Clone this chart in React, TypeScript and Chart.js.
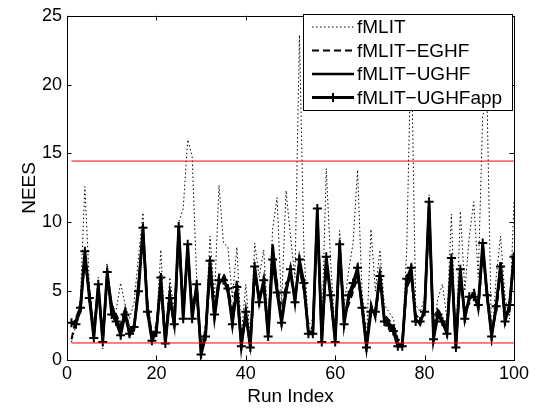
import React, { useEffect, useRef } from "react";
import { Chart, registerables } from "chart.js";

Chart.register(...registerables);

const seriesNames = ["fMLIT", "fMLIT\u2212EGHF", "fMLIT\u2212UGHF", "fMLIT\u2212UGHFapp"];

const fMLIT = [
  1.3, 2.5, 4.5, 12.6, 5.5, 2.2, 6.0, 0.8, 7.0, 3.5,
  3.6, 5.6, 4.0, 3.0, 4.2, 7.5, 10.7, 4.5, 2.0, 2.5,
  8.0, 1.5, 6.0, 3.5, 10.0, 11.0, 16.0, 14.8, 6.0, 1.0,
  2.5, 9.0, 4.5, 12.7, 8.5, 8.2, 4.5, 8.2, 1.8, 5.5,
  1.5, 8.5, 6.0, 8.0, 2.5, 9.5, 11.8, 4.0, 12.3, 9.0,
  6.0, 23.6, 8.0, 2.5, 3.0, 9.0, 2.0, 13.9, 7.0, 1.8,
  9.4, 4.0, 6.5, 8.5, 13.8, 5.0, 1.5, 9.5, 5.0, 8.0,
  4.0, 3.5, 3.0, 1.5, 1.4, 8.0, 23.4, 4.0, 3.5, 4.5,
  12.0, 2.5, 4.5, 5.5, 3.0, 10.6, 1.2, 10.8, 5.0, 9.0,
  11.5, 6.0, 17.8, 18.5, 1.0, 6.0, 9.0, 4.5, 3.0, 11.5,
];

const egHF = [
  1.5, 3.0, 4.0, 7.2, 4.9, 2.1, 5.0, 1.6, 5.8, 4.0,
  3.3, 2.5, 3.8, 2.2, 2.5, 5.5, 8.8, 4.0, 1.8, 2.5,
  5.2, 1.6, 5.0, 2.8, 9.0, 3.8, 7.5, 4.0, 5.0, 0.8,
  2.2, 6.4, 3.4, 6.2, 6.3, 5.4, 3.4, 5.8, 1.5, 3.0,
  1.4, 6.0, 4.8, 5.2, 2.3, 7.8, 5.6, 3.3, 5.6, 5.9,
  4.8, 6.6, 5.0, 2.4, 2.3, 10.0, 1.8, 6.8, 4.9, 1.8,
  7.6, 3.3, 4.0, 5.0, 6.0, 4.3, 1.4, 4.1, 3.0, 6.0,
  3.3, 2.9, 2.6, 1.5, 1.3, 5.2, 6.0, 3.3, 2.9, 3.5,
  10.6, 2.0, 3.8, 2.9, 2.4, 6.7, 1.3, 6.0, 3.6, 4.1,
  5.2, 3.6, 7.8, 4.9, 2.2, 3.4, 6.6, 3.4, 3.5, 7.3,
];

const ugHF = [
  2.6, 2.9, 3.5, 7.6, 4.8, 1.8, 5.3, 1.5, 6.2, 4.0,
  3.0, 2.1, 3.6, 1.8, 2.2, 5.6, 9.3, 3.8, 1.6, 2.2,
  5.6, 1.3, 4.8, 2.4, 9.5, 3.3, 8.0, 3.4, 5.2, 0.6,
  1.9, 6.8, 3.0, 5.5, 6.0, 4.9, 2.9, 5.0, 1.2, 3.2,
  1.1, 6.5, 4.4, 5.5, 1.9, 8.4, 5.2, 2.9, 5.2, 6.3,
  4.5, 7.0, 5.3, 2.1, 2.0, 10.6, 1.5, 7.2, 4.4, 1.5,
  8.0, 2.9, 4.4, 5.3, 6.4, 4.0, 1.1, 3.8, 3.3, 6.4,
  3.0, 2.7, 2.3, 1.2, 1.1, 5.6, 6.4, 3.0, 2.6, 3.8,
  11.1, 1.7, 3.5, 2.6, 2.1, 7.1, 1.1, 6.3, 3.3, 4.4,
  4.8, 3.8, 8.2, 4.5, 1.9, 3.7, 7.1, 3.0, 3.8, 7.8,
];

const ugHFapp = [
  2.7, 2.6, 3.8, 7.9, 4.5, 1.6, 5.5, 1.3, 6.4, 3.3,
  2.8, 1.8, 3.3, 1.9, 2.4, 5.0, 9.6, 3.5, 1.4, 2.0,
  6.0, 1.2, 4.5, 2.6, 9.7, 3.0, 8.4, 3.0, 5.5, 0.4,
  1.7, 7.2, 3.3, 5.8, 5.8, 5.2, 2.6, 5.3, 1.0, 3.5,
  0.9, 6.8, 4.2, 5.8, 1.7, 7.3, 4.9, 2.7, 4.9, 6.6,
  4.2, 7.3, 5.6, 1.9, 1.9, 11.0, 1.3, 7.5, 4.7, 1.3,
  8.4, 2.6, 4.7, 5.6, 6.7, 3.8, 0.9, 3.5, 3.5, 6.1,
  2.8, 2.5, 2.1, 1.0, 1.0, 5.9, 6.7, 2.8, 2.8, 3.5,
  11.5, 1.5, 3.3, 2.8, 1.9, 7.4, 0.9, 6.6, 3.0, 4.6,
  4.6, 4.0, 8.5, 4.7, 1.7, 3.9, 6.8, 2.8, 4.0, 7.5,
];

const boundsUpper = 14.449;
const boundsLower = 1.237;
const boundsRun = [1, 100];

const xTicks = [0, 20, 40, 60, 80, 100];
const yTicks = [0, 5, 10, 15, 20, 25];

const FONT = "'Liberation Sans', Arial, Helvetica, sans-serif";

const toPts = (arr: number[]) => arr.map((v, i) => ({ x: i + 1, y: v }));

const boxPlugin = {
  id: "matlabBox",
  afterDraw(chart: any) {
    const { ctx, chartArea: a, scales } = chart;
    const x = scales.x;
    const y = scales.y;
    ctx.save();
    ctx.strokeStyle = "#000";
    ctx.lineWidth = 1;
    ctx.setLineDash([]);
    const tl = 4.5;
    ctx.beginPath();
    for (const t of xTicks) {
      const px = Math.round(x.getPixelForValue(t)) + 0.5;
      ctx.moveTo(px, a.bottom);
      ctx.lineTo(px, a.bottom - tl);
      ctx.moveTo(px, a.top);
      ctx.lineTo(px, a.top + tl);
    }
    for (const t of yTicks) {
      const py = Math.round(y.getPixelForValue(t)) + 0.5;
      ctx.moveTo(a.left, py);
      ctx.lineTo(a.left + tl, py);
      ctx.moveTo(a.right, py);
      ctx.lineTo(a.right - tl, py);
    }
    ctx.stroke();
    ctx.strokeRect(Math.round(a.left) + 0.5, Math.round(a.top) + 0.5, Math.round(a.right - a.left), Math.round(a.bottom - a.top));

    // legend
    const lx = 303, ly = 14, lw = 209, lh = 96;
    ctx.fillStyle = "#fff";
    ctx.fillRect(lx, ly, lw, lh);
    ctx.strokeRect(lx + 0.5, ly + 0.5, lw, lh);
    const rows = [27, 50.5, 74, 97.5];
    const x0 = 312, x1 = 354;
    chart.data.datasets.slice(0, 4).forEach((ds: any, i: number) => {
      const yy = rows[i];
      ctx.save();
      ctx.strokeStyle = "#000";
      ctx.lineWidth = ds.borderWidth;
      ctx.setLineDash(ds.borderDash || []);
      ctx.beginPath();
      ctx.moveTo(x0, yy);
      ctx.lineTo(x1, yy);
      ctx.stroke();
      if (ds.pointStyle === "cross" && ds.pointRadius > 0) {
        ctx.setLineDash([]);
        ctx.lineWidth = ds.pointBorderWidth;
        const cx = (x0 + x1) / 2, r = ds.pointRadius;
        ctx.beginPath();
        ctx.moveTo(cx - r, yy);
        ctx.lineTo(cx + r, yy);
        ctx.moveTo(cx, yy - r);
        ctx.lineTo(cx, yy + r);
        ctx.stroke();
      }
      ctx.restore();
      ctx.fillStyle = "#000";
      ctx.font = `19px ${FONT}`;
      ctx.textBaseline = "middle";
      ctx.textAlign = "left";
      ctx.fillText(seriesNames[i], 357, yy + 1);
    });
    ctx.restore();
  },
};

export default function App() {
  const ref = useRef<HTMLCanvasElement>(null);
  useEffect(() => {
    document.body.style.margin = "0";
    const canvas = ref.current!;
    const chart = new Chart(canvas, {
      type: "line",
      data: {
        datasets: [
          {
            label: seriesNames[0],
            data: toPts(fMLIT),
            borderColor: "#000",
            borderWidth: 1,
            borderDash: [1.5, 2.5],
            pointRadius: 0,
            order: 4,
          },
          {
            label: seriesNames[1],
            data: toPts(egHF),
            borderColor: "#000",
            borderWidth: 2,
            borderDash: [7, 4],
            pointRadius: 0,
            order: 3,
          },
          {
            label: seriesNames[2],
            data: toPts(ugHF),
            borderColor: "#000",
            borderWidth: 2.5,
            pointRadius: 0,
            order: 2,
          },
          {
            label: seriesNames[3],
            data: toPts(ugHFapp),
            borderColor: "#000",
            borderWidth: 2.8,
            pointStyle: "cross",
            pointRadius: 4.5,
            pointBorderWidth: 2,
            pointBorderColor: "#000",
            pointBackgroundColor: "#000",
            order: 1,
          },
          {
            label: "upper",
            data: boundsRun.map((r) => ({ x: r, y: boundsUpper })),
            borderColor: "#ff0000",
            borderWidth: 1,
            pointRadius: 0,
            order: 0,
          },
          {
            label: "lower",
            data: boundsRun.map((r) => ({ x: r, y: boundsLower })),
            borderColor: "#ff0000",
            borderWidth: 1,
            pointRadius: 0,
            order: 0,
          },
        ] as any,
      },
      options: {
        responsive: false,
        animation: false,
        devicePixelRatio: 1,
        layout: { padding: { left: 0, right: 22, top: 7, bottom: 0 } },
        plugins: { legend: { display: false }, tooltip: { enabled: false } },
        elements: { line: { tension: 0 } },
        scales: {
          x: {
            type: "linear",
            min: 0,
            max: 100,
            afterBuildTicks: (s: any) => {
              s.ticks = xTicks.map((v) => ({ value: v }));
            },
            afterFit: (s: any) => {
              s.height = 48;
            },
            grid: { display: false, drawTicks: false },
            border: { display: false },
            ticks: { color: "#000", font: { family: FONT, size: 18 }, padding: 3, maxRotation: 0 },
            title: { display: true, text: "Run Index", color: "#000", font: { family: FONT, size: 19 }, padding: { top: 0, bottom: 0 } },
          },
          y: {
            type: "linear",
            min: 0,
            max: 25,
            afterBuildTicks: (s: any) => {
              s.ticks = yTicks.map((v) => ({ value: v }));
            },
            afterFit: (s: any) => {
              s.width = 67;
            },
            grid: { display: false, drawTicks: false },
            border: { display: false },
            ticks: { color: "#000", font: { family: FONT, size: 18 }, padding: 5 },
            title: { display: true, text: "NEES", color: "#000", font: { family: FONT, size: 19 }, padding: { top: 18, bottom: 0 } },
          },
        },
      } as any,
      plugins: [boxPlugin],
    });
    return () => chart.destroy();
  }, []);
  return (
    <div style={{ width: 536, height: 408 }}>
      <canvas ref={ref} width={536} height={408} style={{ display: "block", width: 536, height: 408 }} />
    </div>
  );
}
